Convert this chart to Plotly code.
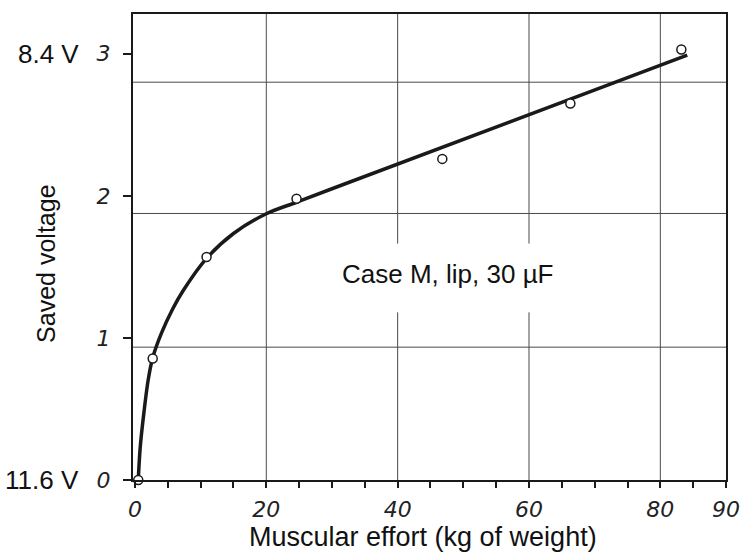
import plotly.graph_objects as go

# Measured points: muscular effort (kg) vs saved voltage (scale units)
effort_kg = [0.5, 2.7, 10.9, 24.6, 46.8, 66.3, 83.2]
saved_v = [0.0, 0.855, 1.57, 1.98, 2.26, 2.65, 3.03]

# Hand-drawn fitted curve
curve_x = [0.5, 0.8, 1.3, 2.0, 2.7, 4.0, 5.7, 7.3, 10.9, 15.0, 20.0, 24.6, 30.0, 84.1]
curve_y = [0.0, 0.23, 0.45, 0.70, 0.86, 1.03, 1.20, 1.33, 1.56, 1.735, 1.874, 1.955, 2.05, 2.99]

# Axis ticks
x_tick_vals = [0, 5, 10, 15, 20, 25, 30, 35, 40, 45, 50, 55, 60, 65, 70, 75, 80, 85, 90]
x_tick_text = ["0", "", "", "", "20", "", "", "", "40", "", "", "", "60", "", "", "", "80", "", "90"]
y_tick_vals = [0, 1, 2, 3]
y_tick_text = ["0", "1", "2", "3"]

# Graph-paper rules
grid_x_full = [20, 80]
grid_x_split = [40, 60]
grid_split_gap = (1.18, 1.664)
grid_y = [0.935, 1.876, 2.80]

ink = "#1a1a1a"
rule = "#4a4a4a"
label_font = dict(family="Liberation Sans, Arial, sans-serif", size=26, color="#111")
tick_font = dict(family="DejaVu Sans, sans-serif", size=22, color="#222", style="italic")

fig = go.Figure()

fig.add_trace(go.Scatter(
    x=curve_x, y=curve_y, mode="lines",
    line=dict(color=ink, width=3.5, shape="spline", smoothing=0.9),
    hoverinfo="skip", showlegend=False,
))
fig.add_trace(go.Scatter(
    x=effort_kg, y=saved_v, mode="markers",
    marker=dict(symbol="circle", size=9, color="white", line=dict(color=ink, width=1.5)),
    cliponaxis=False, showlegend=False,
))

shapes = []
for gx in grid_x_full:
    shapes.append(dict(type="line", xref="x", yref="y domain", x0=gx, x1=gx, y0=0, y1=1,
                       line=dict(color=rule, width=1), layer="below"))
for gx in grid_x_split:
    shapes.append(dict(type="line", xref="x", yref="y", x0=gx, x1=gx, y0=0, y1=grid_split_gap[0],
                       line=dict(color=rule, width=1), layer="below"))
    shapes.append(dict(type="line", xref="x", yref="y", x0=gx, x1=gx, y0=grid_split_gap[1], y1=3.28,
                       line=dict(color=rule, width=1), layer="below"))
for gy in grid_y:
    shapes.append(dict(type="line", xref="x domain", yref="y", x0=0, x1=1, y0=gy, y1=gy,
                       line=dict(color=rule, width=1), layer="below"))

annotations = [
    dict(text="8.4 V", xref="paper", yref="y", x=-0.088, y=3, xanchor="right", yanchor="middle",
         showarrow=False, font=label_font),
    dict(text="11.6 V", xref="paper", yref="y", x=-0.088, y=0, xanchor="right", yanchor="middle",
         showarrow=False, font=label_font),
    dict(text="Saved voltage", xref="paper", yref="y", x=-0.147, y=1.52, textangle=-90,
         xanchor="center", yanchor="middle", showarrow=False,
         font=dict(label_font, size=25)),
    dict(text="Muscular effort (kg of weight)", xref="x", yref="paper", x=43.9, y=-0.122,
         xanchor="center", yanchor="middle", showarrow=False,
         font=dict(label_font, size=27)),
    dict(text="Case M, lip, 30 µF", xref="x", yref="y", x=47.7, y=1.45,
         xanchor="center", yanchor="middle", showarrow=False, font=label_font),
]

fig.update_layout(
    width=752, height=553,
    margin=dict(l=133, r=19, t=13, b=73),
    paper_bgcolor="white", plot_bgcolor="white",
    shapes=shapes, annotations=annotations,
    xaxis=dict(
        range=[-0.3, 90], tickmode="array", tickvals=x_tick_vals, ticktext=x_tick_text,
        ticks="outside", ticklen=6, tickwidth=1.5, tickcolor=ink,
        showgrid=False, zeroline=False, showline=True, linecolor=ink, linewidth=2, mirror=True,
        tickfont=tick_font, ticklabelstandoff=3,
    ),
    yaxis=dict(
        range=[0, 3.28], tickmode="array", tickvals=y_tick_vals, ticktext=y_tick_text,
        ticks="outside", ticklen=8, tickwidth=1.5, tickcolor=ink,
        showgrid=False, zeroline=False, showline=True, linecolor=ink, linewidth=2, mirror=True,
        tickfont=tick_font, ticklabelstandoff=8,
    ),
)

fig.write_html("out.html")
